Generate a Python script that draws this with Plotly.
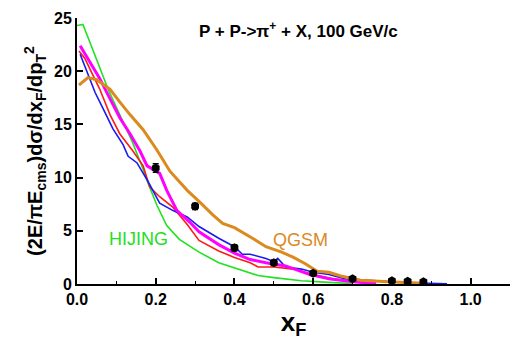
import plotly.graph_objects as go

# HIJING (green)
green_x = [0, 0.015, 0.033, 0.058, 0.079, 0.1, 0.117, 0.14, 0.168, 0.178, 0.203, 0.228, 0.26, 0.31, 0.36, 0.40, 0.46, 0.5, 0.57, 0.64, 0.7]
green_y = [24.3, 24.4, 22.7, 20.4, 18.3, 16.6, 15.3, 13.4, 10.8, 9.7, 7.4, 5.5, 4.2, 3.0, 2.0, 1.5, 0.8, 0.6, 0.3, 0.15, 0.05]
# red model
red_x = [0.005, 0.02, 0.033, 0.058, 0.084, 0.109, 0.142, 0.168, 0.185, 0.21, 0.244, 0.28, 0.31, 0.36, 0.40, 0.44, 0.46, 0.5, 0.55, 0.6, 0.65, 0.7, 0.75]
red_y = [21.9, 21.2, 20.2, 18.3, 15.9, 14.1, 12.5, 11.1, 9.1, 8.2, 7.2, 5.6, 4.1, 3.1, 2.5, 2.0, 1.6, 1.6, 1.4, 0.9, 0.5, 0.3, 0.1]
# blue model
blue_x = [0.008, 0.046, 0.066, 0.091, 0.117, 0.13, 0.152, 0.178, 0.21, 0.244, 0.28, 0.31, 0.36, 0.40, 0.42, 0.44, 0.48, 0.5, 0.51, 0.53, 0.57, 0.6, 0.64, 0.68, 0.74, 0.8, 0.87, 0.94]
blue_y = [21.6, 18.0, 16.5, 14.6, 13.1, 12.0, 11.4, 9.8, 7.6, 6.9, 6.3, 5.4, 4.3, 3.5, 2.8, 2.8, 2.4, 2.1, 2.4, 1.6, 1.4, 1.1, 0.9, 0.5, 0.35, 0.2, 0.1, 0.02]
# magenta model
mag_x = [0.008, 0.033, 0.058, 0.084, 0.109, 0.135, 0.16, 0.178, 0.21, 0.228, 0.254, 0.287, 0.31, 0.36, 0.40, 0.44, 0.48, 0.53, 0.59, 0.64, 0.7, 0.76]
mag_y = [22.4, 20.8, 19.3, 17.4, 15.6, 14.1, 12.5, 11.1, 10.4, 8.8, 6.9, 5.8, 4.9, 3.7, 2.9, 2.3, 2.0, 1.7, 0.9, 0.5, 0.2, 0.05]
# QGSM (orange)
qgsm_x = [0.005, 0.028, 0.05, 0.084, 0.109, 0.135, 0.168, 0.203, 0.236, 0.28, 0.312, 0.345, 0.37, 0.40, 0.45, 0.48, 0.52, 0.55, 0.58, 0.61, 0.64, 0.67, 0.72, 0.79, 0.88]
qgsm_y = [18.7, 19.4, 19.2, 18.3, 17.1, 15.9, 14.5, 12.6, 10.6, 8.8, 7.7, 6.5, 5.7, 5.3, 4.2, 3.5, 3.0, 2.5, 1.9, 1.2, 1.1, 0.75, 0.35, 0.2, 0.08]
# experimental data
data_x = [0.2, 0.3, 0.4, 0.5, 0.6, 0.7, 0.8, 0.84, 0.88]
data_y = [10.9, 7.3, 3.4, 2.0, 1.0, 0.5, 0.3, 0.25, 0.2]
data_err = [0.4, 0.3, 0.3, 0.25, 0.2, 0.15, 0.1, 0.1, 0.1]

FONT = "Arial, Liberation Sans, sans-serif"

fig = go.Figure()
fig.add_trace(go.Scatter(x=green_x, y=green_y, mode="lines", line=dict(color="#22E022", width=1.6)))
fig.add_trace(go.Scatter(x=red_x, y=red_y, mode="lines", line=dict(color="#FF1A1A", width=1.6)))
fig.add_trace(go.Scatter(x=blue_x, y=blue_y, mode="lines", line=dict(color="#1A1AF0", width=1.6)))
fig.add_trace(go.Scatter(x=mag_x, y=mag_y, mode="lines", line=dict(color="#FF00FF", width=3)))
fig.add_trace(go.Scatter(x=qgsm_x, y=qgsm_y, mode="lines", line=dict(color="#DA8A1E", width=3)))
fig.add_trace(go.Scatter(x=data_x, y=data_y, mode="markers",
                         marker=dict(color="black", size=9, symbol="hexagon"),
                         error_y=dict(type="data", array=data_err, color="black", thickness=1.5, width=3)))

fig.add_annotation(x=0.155, y=4.2, xref="x", yref="y", text="HIJING", showarrow=False,
                   font=dict(family=FONT, size=18, color="#22E022"))
fig.add_annotation(x=0.569, y=4.1, xref="x", yref="y", text="QGSM", showarrow=False,
                   font=dict(family=FONT, size=18, color="#DA8A1E"))
fig.add_annotation(x=0.277, y=0.956, xref="paper", yref="paper", xanchor="left", yanchor="middle",
                   text="<b>P + P->π<sup>+</sup> + X, 100 GeV/c</b>", showarrow=False,
                   font=dict(family=FONT, size=17, color="black"))

fig.update_layout(
    width=520, height=340,
    margin=dict(l=77, r=10, t=13, b=55),
    paper_bgcolor="white", plot_bgcolor="white",
    showlegend=False,
    font=dict(family=FONT, color="black"),
)
fig.update_xaxes(range=[0, 1.1], tickvals=[0, 0.2, 0.4, 0.6, 0.8, 1.0],
                 ticktext=["0.0", "0.2", "0.4", "0.6", "0.8", "1.0"],
                 ticks="inside", ticklen=6, tickwidth=1.5, tickcolor="black",
                 minor=dict(dtick=0.1, tick0=0, ticks="inside", ticklen=3, tickwidth=1.2, tickcolor="black"),
                 showline=True, linewidth=2, linecolor="black", showgrid=False, zeroline=False,
                 tickfont=dict(family=FONT, size=16, color="black", weight="bold"),
                 title=dict(text="<b>x<sub>F</sub></b>", font=dict(family=FONT, size=26, color="black"), standoff=4))
fig.update_yaxes(range=[0, 25], tickvals=[0, 5, 10, 15, 20, 25],
                 ticks="inside", ticklen=6, tickwidth=1.5, tickcolor="black",
                 showline=True, linewidth=2, linecolor="black", showgrid=False, zeroline=False,
                 tickfont=dict(family=FONT, size=16, color="black", weight="bold"),
                 title=dict(text="<b>(2E/πE<sub>cms</sub>)dσ/dx<sub>F</sub>/dp<sub>T</sub><sup>2</sup></b>",
                            font=dict(family=FONT, size=20, color="black"), standoff=6))

fig.write_html("out.html")
